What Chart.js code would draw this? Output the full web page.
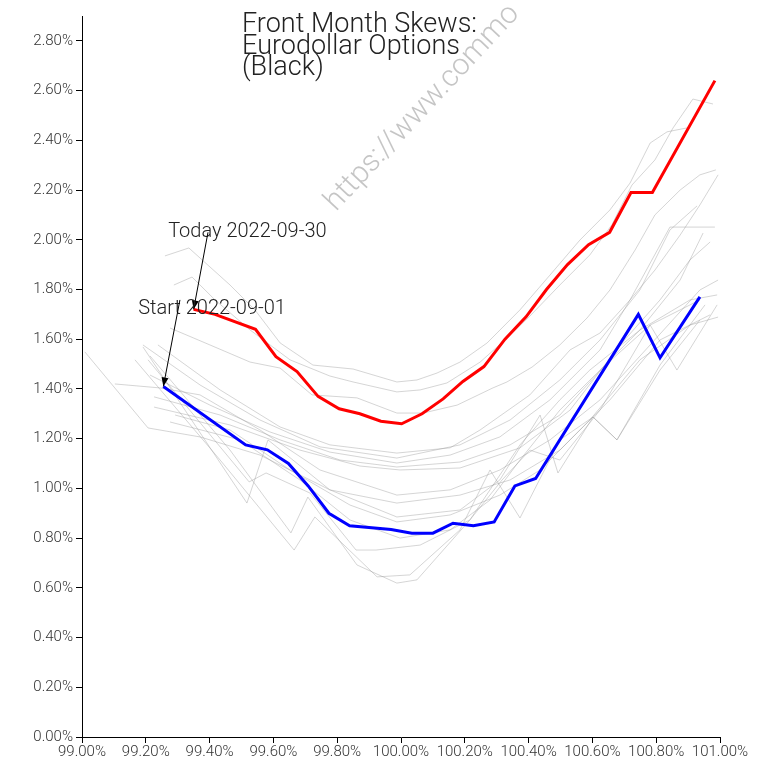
<!DOCTYPE html>
<html>
<head>
<meta charset="utf-8">
<script src="https://cdn.jsdelivr.net/npm/chart.js@4.4.1/dist/chart.umd.min.js"></script>
<style>
  html, body { margin: 0; padding: 0; background: #fff; }
  #wrap { width: 768px; height: 762px; }
</style>
</head>
<body>
<div id="wrap"><canvas id="chart" width="768" height="762"></canvas></div>
<script>
// strike / forward (%) and skew (%) per day
const todayX = [99.350, 99.417, 99.544, 99.608, 99.674, 99.740, 99.806, 99.871, 99.937, 100.002, 100.066, 100.132, 100.194, 100.260, 100.326, 100.392, 100.456, 100.522, 100.588, 100.654, 100.721, 100.788, 100.984];
const todayY = [1.72, 1.70, 1.64, 1.53, 1.47, 1.37, 1.32, 1.30, 1.27, 1.26, 1.30, 1.36, 1.43, 1.49, 1.60, 1.69, 1.80, 1.90, 1.98, 2.03, 2.19, 2.19, 2.64];

const startX = [99.255, 99.513, 99.581, 99.647, 99.709, 99.774, 99.839, 99.969, 100.034, 100.100, 100.163, 100.227, 100.292, 100.357, 100.422, 100.744, 100.812, 100.937];
const startY = [1.41, 1.175, 1.155, 1.10, 1.01, 0.90, 0.85, 0.835, 0.82, 0.82, 0.86, 0.85, 0.865, 1.01, 1.04, 1.70, 1.525, 1.77];

// the days in between
const otherDays = [
  { x: [99.260, 99.335, 99.464, 99.542, 99.621, 99.724, 99.850, 99.987, 100.050, 100.113, 100.185, 100.270, 100.373, 100.467, 100.561, 100.655, 100.718, 100.781, 100.834, 100.897],
    y: [1.935, 1.967, 1.818, 1.718, 1.585, 1.496, 1.480, 1.428, 1.436, 1.464, 1.508, 1.585, 1.718, 1.858, 1.999, 2.120, 2.228, 2.389, 2.434, 2.450] },
  { x: [99.288, 99.345, 99.417, 99.527, 99.652, 99.777, 99.850, 99.987, 100.060, 100.144, 100.248, 100.326, 100.404, 100.498, 100.592, 100.661, 100.724, 100.796, 100.853, 100.915, 100.978],
    y: [1.818, 1.850, 1.758, 1.637, 1.517, 1.452, 1.428, 1.388, 1.396, 1.424, 1.508, 1.597, 1.693, 1.818, 1.939, 2.060, 2.220, 2.321, 2.450, 2.566, 2.546] },
  { x: [99.276, 99.401, 99.527, 99.621, 99.721, 99.862, 99.987, 100.069, 100.176, 100.288, 100.332, 100.411, 100.498, 100.583, 100.655, 100.734, 100.796, 100.875, 100.937, 100.987],
    y: [1.645, 1.577, 1.508, 1.484, 1.376, 1.364, 1.303, 1.303, 1.335, 1.404, 1.428, 1.488, 1.577, 1.685, 1.798, 1.959, 2.100, 2.200, 2.261, 2.281] },
  { x: [99.238, 99.433, 99.621, 99.777, 99.987, 100.154, 100.248, 100.404, 100.530, 100.624, 100.718, 100.796, 100.875, 100.937, 100.994],
    y: [1.577, 1.396, 1.247, 1.175, 1.142, 1.163, 1.235, 1.376, 1.557, 1.625, 1.758, 1.878, 2.019, 2.140, 2.261] },
  { x: [99.191, 99.370, 99.558, 99.746, 99.987, 100.185, 100.342, 100.498, 100.624, 100.749, 100.843, 100.928],
    y: [1.577, 1.416, 1.275, 1.167, 1.122, 1.175, 1.275, 1.436, 1.597, 1.798, 2.039, 2.136] },
  { x: [99.213, 99.401, 99.589, 99.777, 99.987, 100.154, 100.310, 100.467, 100.624, 100.718, 100.843, 100.984],
    y: [1.456, 1.335, 1.227, 1.146, 1.102, 1.134, 1.207, 1.356, 1.557, 1.758, 2.051, 2.051] },
  { x: [99.226, 99.433, 99.621, 99.809, 99.987, 100.185, 100.342, 100.498, 100.655, 100.749, 100.875, 100.947],
    y: [1.368, 1.295, 1.195, 1.114, 1.086, 1.106, 1.175, 1.295, 1.517, 1.637, 1.838, 2.027] },
  { x: [99.226, 99.464, 99.683, 99.871, 99.997, 100.185, 100.373, 100.530, 100.687, 100.812, 100.906, 100.969],
    y: [1.327, 1.255, 1.154, 1.090, 1.074, 1.082, 1.163, 1.315, 1.577, 1.758, 1.919, 1.991] },
  { x: [99.103, 99.245, 99.370, 99.558, 99.746, 99.987, 100.154, 100.310, 100.467, 100.624, 100.781, 100.937, 100.994],
    y: [1.420, 1.404, 1.376, 1.235, 1.074, 0.973, 0.994, 1.074, 1.195, 1.356, 1.577, 1.798, 1.838] },
  { x: [99.009, 99.207, 99.370, 99.558, 99.777, 99.987, 100.185, 100.342, 100.498, 100.655, 100.812, 100.969],
    y: [1.549, 1.243, 1.207, 1.134, 0.994, 0.941, 0.973, 1.034, 1.154, 1.356, 1.597, 1.698] },
  { x: [99.292, 99.464, 99.652, 99.840, 99.987, 100.154, 100.310, 100.436, 100.592, 100.749, 100.906, 100.994],
    y: [1.295, 1.235, 1.074, 0.933, 0.865, 0.893, 0.973, 1.074, 1.275, 1.517, 1.657, 1.689] },
  { x: [99.276, 99.495, 99.683, 99.840, 99.997, 100.154, 100.279, 100.373, 100.498, 100.624, 100.781, 100.937],
    y: [1.267, 1.195, 1.034, 0.873, 0.800, 0.833, 0.953, 1.114, 1.315, 1.476, 1.657, 1.758] },
  { x: [99.191, 99.517, 99.583, 99.777, 99.987, 100.185, 100.310, 100.436, 100.492, 100.602, 100.677, 100.812, 100.937],
    y: [1.569, 0.941, 1.195, 0.994, 0.885, 0.913, 1.034, 1.295, 1.062, 1.287, 1.195, 1.476, 1.677] },
  { x: [99.213, 99.464, 99.655, 99.708, 99.862, 99.987, 100.050, 100.216, 100.373, 100.498, 100.592, 100.749, 100.906, 100.991],
    y: [1.533, 1.154, 0.821, 0.965, 0.692, 0.619, 0.632, 0.873, 1.175, 1.356, 1.476, 1.637, 1.758, 1.778] },
  { x: [99.166, 99.433, 99.665, 99.730, 99.925, 100.028, 100.185, 100.279, 100.373, 100.498, 100.602, 100.677, 100.812, 100.953],
    y: [1.517, 1.114, 0.752, 0.885, 0.644, 0.652, 0.833, 1.074, 0.881, 1.195, 1.287, 1.195, 1.496, 1.738] },
  { x: [99.207, 99.524, 99.577, 99.715, 99.859, 99.922, 100.060, 100.216, 100.317, 100.404, 100.498, 100.624, 100.781, 100.865, 100.991],
    y: [1.517, 1.026, 1.062, 0.981, 0.752, 0.752, 0.772, 0.873, 1.034, 1.154, 1.114, 1.315, 1.657, 1.476, 1.738] }
];

const xTicksMin = 99, xTicksMax = 101;
const yTicksMin = 0, yTicksMax = 2.9;

const titleLines = ["Front Month Skews:", "Eurodollar Options", "(Black)"];
const FONT = "Roboto, 'Open Sans', sans-serif";

function toPoints(xs, ys) {
  return xs.map((x, i) => ({ x: x, y: ys[i] }));
}

const datasets = [
  { label: "Today", data: toPoints(todayX, todayY), borderColor: "#ff0000", borderWidth: 3 },
  { label: "Start", data: toPoints(startX, startY), borderColor: "#0000ff", borderWidth: 3 }
];
otherDays.forEach((d, i) => {
  datasets.push({ label: "day" + i, data: toPoints(d.x, d.y), borderColor: "rgba(150,150,150,0.4)", borderWidth: 1 });
});

// labels with arrows pointing at the first point of each highlighted day
const notes = [
  { text: "Today 2022-09-30", tx: 99.27, ty: 2.01, fx: 99.395, fy: 2.03, ds: 0 },
  { text: "Start 2022-09-01", tx: 99.176, ty: 1.70, fx: 99.307, fy: 1.758, ds: 1 }
];

const extras = {
  id: "extras",
  afterDatasetsDraw(chart) {
    const { ctx, scales: { x, y } } = chart;
    ctx.save();
    ctx.font = "300 20px " + FONT;
    ctx.fillStyle = "#222";
    ctx.textBaseline = "alphabetic";
    notes.forEach(n => {
      ctx.fillText(n.text, x.getPixelForValue(n.tx), y.getPixelForValue(n.ty));
      const p0 = chart.data.datasets[n.ds].data[0];
      const x0 = x.getPixelForValue(n.fx), y0 = y.getPixelForValue(n.fy);
      const x1 = x.getPixelForValue(p0.x), y1 = y.getPixelForValue(p0.y);
      const ang = Math.atan2(y1 - y0, x1 - x0);
      ctx.strokeStyle = "#000";
      ctx.lineWidth = 1;
      ctx.beginPath();
      ctx.moveTo(x0, y0);
      ctx.lineTo(x1, y1);
      ctx.stroke();
      ctx.fillStyle = "#000";
      ctx.beginPath();
      ctx.moveTo(x1, y1);
      ctx.lineTo(x1 - 9 * Math.cos(ang) + 3.5 * Math.sin(ang), y1 - 9 * Math.sin(ang) - 3.5 * Math.cos(ang));
      ctx.lineTo(x1 - 9 * Math.cos(ang) - 3.5 * Math.sin(ang), y1 - 9 * Math.sin(ang) + 3.5 * Math.cos(ang));
      ctx.closePath();
      ctx.fill();
      ctx.fillStyle = "#222";
    });
    ctx.restore();
  },
  afterDraw(chart) {
    const { ctx } = chart;
    ctx.save();
    // title
    ctx.font = "300 27px " + FONT;
    ctx.fillStyle = "#222";
    ctx.textBaseline = "alphabetic";
    titleLines.forEach((t, i) => ctx.fillText(t, 242, 32 + i * 21.5));
    // watermark
    ctx.translate(336, 212);
    ctx.rotate(-47 * Math.PI / 180);
    ctx.font = "300 30px " + FONT;
    ctx.fillStyle = "rgba(150,150,150,0.55)";
    ctx.fillText("https://www.commo", 0, 0);
    ctx.restore();
  }
};

new Chart(document.getElementById("chart"), {
  type: "scatter",
  data: { datasets: datasets },
  options: {
    responsive: false,
    animation: false,
    devicePixelRatio: 1,
    showLine: true,
    layout: { padding: { top: 16, right: 48, left: 0, bottom: 0 } },
    elements: {
      point: { radius: 0, hoverRadius: 0 },
      line: { tension: 0, fill: false }
    },
    plugins: { legend: { display: false }, tooltip: { enabled: false } },
    scales: {
      x: {
        type: "linear",
        min: xTicksMin,
        max: xTicksMax,
        afterFit(s) { s.height = 25; },
        border: { display: true, color: "#000", width: 1 },
        grid: { display: true, drawOnChartArea: false, drawTicks: true, tickLength: 6, color: "#000" },
        ticks: {
          stepSize: 0.2,
          includeBounds: false,
          maxRotation: 0,
          autoSkip: false,
          padding: 0,
          color: "#333",
          font: { family: FONT, size: 15, weight: "300" },
          callback: v => v.toFixed(2) + "%"
        }
      },
      y: {
        type: "linear",
        min: yTicksMin,
        max: yTicksMax,
        afterFit(s) { s.width = 82; },
        border: { display: true, color: "#000", width: 1 },
        grid: { display: true, drawOnChartArea: false, drawTicks: true, tickLength: 6, color: "#000" },
        ticks: {
          stepSize: 0.2,
          includeBounds: false,
          autoSkip: false,
          padding: 3,
          color: "#333",
          font: { family: FONT, size: 15, weight: "300" },
          callback: v => v.toFixed(2) + "%"
        }
      }
    }
  },
  plugins: [extras]
});
</script>
</body>
</html>
